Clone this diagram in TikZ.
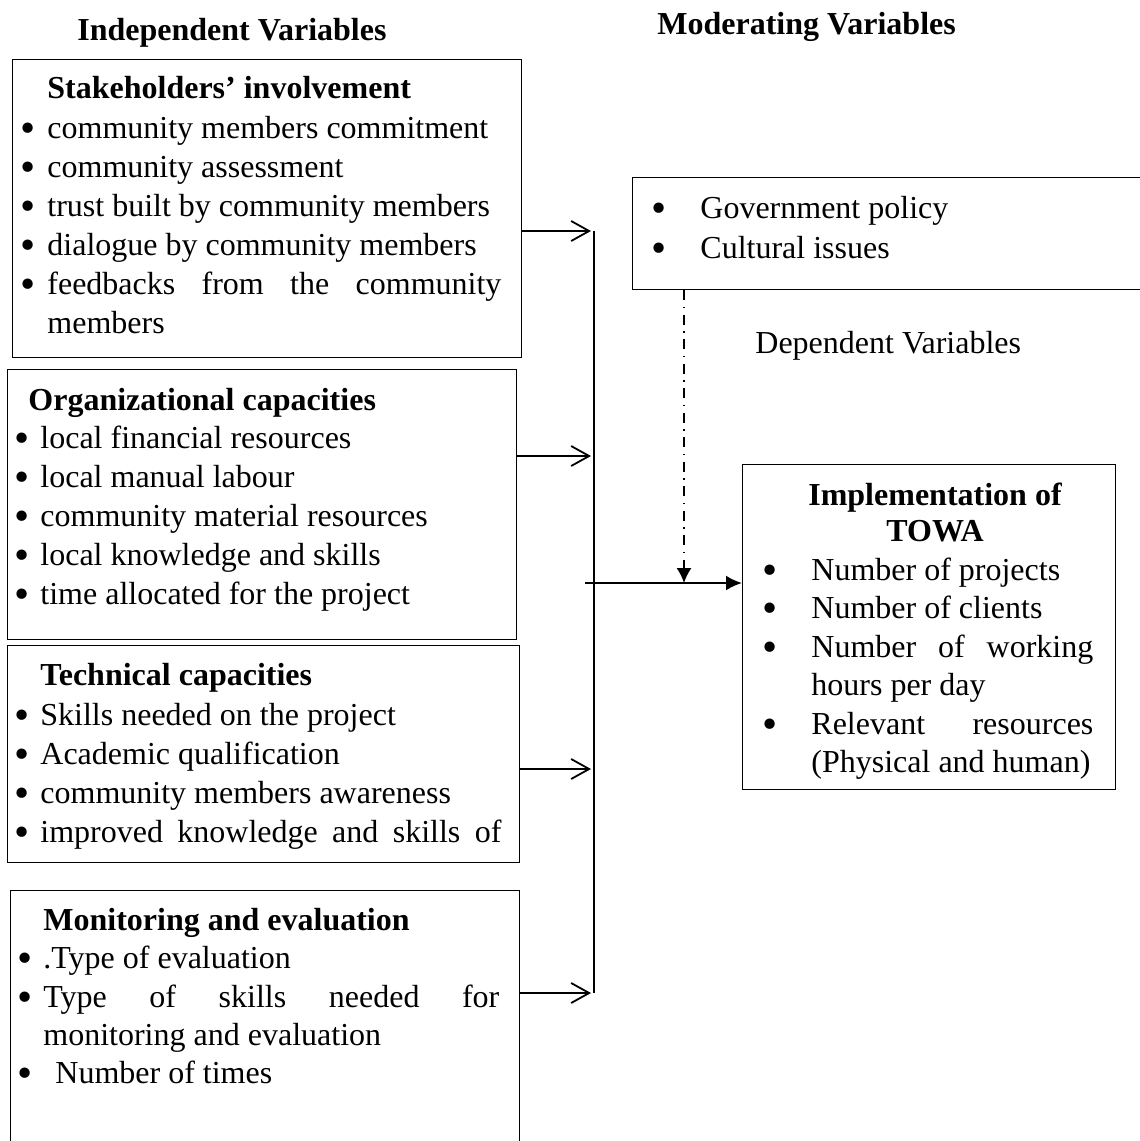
\documentclass[tikz,border=0pt]{standalone}
\usepackage{fontspec}
\setmainfont{Liberation Serif}
\usetikzlibrary{arrows.meta}
\newcommand\myfs{\fontsize{16pt}{19.5pt}\selectfont}
\newcommand\mybul{\raisebox{-2.3pt}[0pt][0pt]{\scalebox{1.35}{\textbullet}}}
\tikzset{
  x=0.5pt, y=-0.5pt,
  frame/.style={draw, line width=0.7pt, inner sep=0pt, anchor=north west},
  txt/.style={anchor=base west, inner sep=0pt, font=\myfs},
  ttl/.style={anchor=base west, inner sep=0pt, font=\myfs\bfseries},
  ctl/.style={anchor=base, inner sep=0pt, font=\myfs\bfseries},
  bul/.style={anchor=base, inner sep=0pt, font=\myfs},
  feed/.style={line width=0.9pt, -{Straight Barb[length=9pt,width=10pt,line width=0.9pt]}},
  bus/.style={line width=0.8pt},
  mainarrow/.style={line width=1.1pt, -{Latex[length=8pt,width=7.5pt]}},
  modarrow/.style={line width=0.8pt, dash pattern=on 5pt off 3.25pt on 0.75pt off 3.25pt, -{Latex[length=7.5pt,width=7.5pt]}}
}
\begin{document}
\begin{tikzpicture}
\clip (0,0) rectangle (1140,1141);
% headings
\node[ttl] (hind) at (77,40) {Independent Variables};
\node[ttl] (hmod) at (657,34) {Moderating Variables};
\node[txt] (hdep) at (755,353) {Dependent Variables};

% boxes
\node[frame, minimum width=254.5pt, minimum height=149pt] (b1) at (12,59) {};
\node[frame, minimum width=254.5pt, minimum height=135pt] (b2) at (7,369) {};
\node[frame, minimum width=256pt, minimum height=108.5pt] (b3) at (7,645) {};
\node[frame, minimum width=254.5pt, minimum height=140pt] (b4) at (10,890) {};
\node[frame, minimum width=269pt, minimum height=56pt] (mod) at (632,177) {};
\node[frame, minimum width=186.5pt, minimum height=162.5pt] (impl) at (742,464) {};

% box 1
\node[ttl] (b1t) at (47,98) {Stakeholders’ involvement};
\node[bul] (b1b1) at (28,138) {\mybul};
\node[txt] (b1l1) at (47,138) {community members commitment};
\node[bul] (b1b2) at (28,177) {\mybul};
\node[txt] (b1l2) at (47,177) {community assessment};
\node[bul] (b1b3) at (28,216) {\mybul};
\node[txt] (b1l3) at (47,216) {trust built by community members};
\node[bul] (b1b4) at (28,255) {\mybul};
\node[txt] (b1l4) at (47,255) {dialogue by community members};
\node[bul] (b1b5) at (28,294) {\mybul};
\node[txt] (b1l5) at (47,294) {\makebox[227pt][s]{feedbacks from the community}};
\node[txt] (b1l6) at (47,333) {members};

% box 2
\node[ttl] (b2t) at (28,410) {Organizational capacities};
\node[bul] (b2b1) at (22,448) {\mybul};
\node[txt] (b2l1) at (40,448) {local financial resources};
\node[bul] (b2b2) at (22,487) {\mybul};
\node[txt] (b2l2) at (40,487) {local manual labour};
\node[bul] (b2b3) at (22,526) {\mybul};
\node[txt] (b2l3) at (40,526) {community material resources};
\node[bul] (b2b4) at (22,565) {\mybul};
\node[txt] (b2l4) at (40,565) {local knowledge and skills};
\node[bul] (b2b5) at (22,604) {\mybul};
\node[txt] (b2l5) at (40,604) {time allocated for the project};

% box 3
\node[ttl] (b3t) at (40,685) {Technical capacities};
\node[bul] (b3b1) at (22,725) {\mybul};
\node[txt] (b3l1) at (40,725) {Skills needed on the project};
\node[bul] (b3b2) at (22,764) {\mybul};
\node[txt] (b3l2) at (40,764) {Academic qualification};
\node[bul] (b3b3) at (22,803) {\mybul};
\node[txt] (b3l3) at (40,803) {community members awareness};
\node[bul] (b3b4) at (22,842) {\mybul};
\node[txt] (b3l4) at (40,842) {\makebox[230.5pt][s]{improved knowledge and skills of}};

% box 4
\node[ttl] (b4t) at (43,930) {Monitoring and evaluation};
\node[bul] (b4b1) at (25,968) {\mybul};
\node[txt] (b4l1) at (43,968) {.Type of evaluation};
\node[bul] (b4b2) at (25,1007) {\mybul};
\node[txt] (b4l2) at (43,1007) {\makebox[228pt][s]{Type of skills needed for}};
\node[txt] (b4l3) at (43,1045) {monitoring and evaluation};
\node[bul] (b4b3) at (25,1083) {\mybul};
\node[txt] (b4l4) at (55,1083) {Number of times};

% moderating
\node[bul] (mb1) at (659,218) {\mybul};
\node[txt] (ml1) at (700,218) {Government policy};
\node[bul] (mb2) at (659,258) {\mybul};
\node[txt] (ml2) at (700,258) {Cultural issues};

% implementation
\node[ctl] (it1) at (935,505) {Implementation of};
\node[ctl] (it2) at (935,541) {TOWA};
\node[bul] (ib1) at (770,580) {\mybul};
\node[txt] (il1) at (811,580) {Number of projects};
\node[bul] (ib2) at (770,618) {\mybul};
\node[txt] (il2) at (811,618) {Number of clients};
\node[bul] (ib3) at (770,657) {\mybul};
\node[txt] (il3) at (811,657) {\makebox[141pt][s]{Number of working}};
\node[txt] (il4) at (811,695) {hours per day};
\node[bul] (ib4) at (770,734) {\mybul};
\node[txt] (il5) at (811,734) {\makebox[141pt][s]{Relevant resources}};
\node[txt] (il6) at (811,772) {(Physical and human)};

% connectors
\coordinate (t1) at (591,231);
\coordinate (t2) at (591,456);
\coordinate (t3) at (591,769);
\coordinate (t4) at (591,993);
\coordinate (bustop) at (594,231);
\coordinate (busbot) at (594,993);
\coordinate (j) at (585,583);
\coordinate (dd) at (684,583);

\draw[feed] (b1.east |- t1) -- (t1);
\draw[feed] (b2.east |- t2) -- (t2);
\draw[feed] (b3.east |- t3) -- (t3);
\draw[feed] (b4.east |- t4) -- (t4);
\draw[bus] (bustop) -- (busbot);
\draw[mainarrow] (j) -- (j -| impl.west);
\draw[modarrow] (dd |- mod.south) -- (dd);
\end{tikzpicture}
\end{document}
